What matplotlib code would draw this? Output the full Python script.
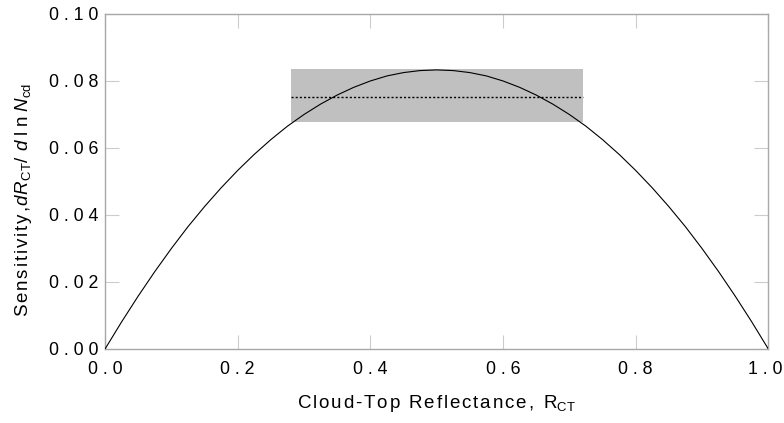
import matplotlib
matplotlib.use("Agg")
import matplotlib.pyplot as plt
import matplotlib.transforms as mtransforms
from matplotlib.ticker import FixedLocator

plt.rcParams['font.family'] = ['Liberation Sans', 'DejaVu Sans']
plt.rcParams['mathtext.fontset'] = 'custom'
plt.rcParams['mathtext.rm'] = 'Liberation Sans'
plt.rcParams['mathtext.it'] = 'Liberation Sans:italic'
plt.rcParams['mathtext.default'] = 'rm'

# Curve
reflectance = [0.0, 0.025, 0.05, 0.075, 0.1, 0.125, 0.15, 0.175, 0.2, 0.225, 0.25,
               0.275, 0.3, 0.325, 0.35, 0.375, 0.4, 0.425, 0.45, 0.475, 0.5,
               0.525, 0.55, 0.575, 0.6, 0.625, 0.65, 0.675, 0.7, 0.725, 0.75,
               0.775, 0.8, 0.825, 0.85, 0.875, 0.9, 0.925, 0.95, 0.975, 1.0]
sensitivity = [0.0, 0.0081, 0.0158, 0.0231, 0.0300, 0.0365, 0.0425, 0.0481, 0.0533, 0.0581, 0.0625,
               0.0665, 0.0700, 0.0731, 0.0758, 0.0781, 0.0800, 0.0815, 0.0825, 0.0831, 0.0833,
               0.0831, 0.0825, 0.0815, 0.0800, 0.0781, 0.0758, 0.0731, 0.0700, 0.0665, 0.0625,
               0.0581, 0.0533, 0.0481, 0.0425, 0.0365, 0.0300, 0.0231, 0.0158, 0.0081, 0.0]

# Shaded range
box_x = [0.28, 0.72]
box_y = [0.0678, 0.0835]
mean_line = 0.0751

xticks = [0.0, 0.2, 0.4, 0.6, 0.8, 1.0]
xtick_labels = ["0.0", "0.2", "0.4", "0.6", "0.8", "1.0"]
yticks = [0.0, 0.02, 0.04, 0.06, 0.08, 0.10]
ytick_labels = ["0.00", "0.02", "0.04", "0.06", "0.08", "0.10"]


def track(s):
    # loose letter spacing like the reference
    return " ".join(s)


def mtrack(s, sp=0.12):
    out = []
    for ch in s:
        if ch == ' ':
            out.append(r'\ ')
        elif ch == '-':
            out.append(r'\text{-}')
        elif ch == ',':
            out.append(r'{,}')
        else:
            out.append(ch)
    return (r'\hspace{%g}' % sp).join(out)


fig = plt.figure(figsize=(7.84, 4.23), dpi=100)
ax = fig.add_axes([0.134, 0.175, 0.846, 0.792])

ax.fill_between(box_x, box_y[0], box_y[1], color='#c0c0c0', linewidth=0, zorder=1)
ax.plot(box_x, [mean_line, mean_line], color='black', linestyle=(0, (1.5, 1.5)), linewidth=1.0, zorder=2)
ax.plot(reflectance, sensitivity, color='black', linewidth=0.8, zorder=3)

ax.set_xlim(0, 1.0)
ax.set_ylim(0, 0.10)
ax.xaxis.set_major_locator(FixedLocator(xticks))
ax.yaxis.set_major_locator(FixedLocator(yticks))
ax.set_xticklabels([track(t) for t in xtick_labels])
ax.set_yticklabels([track(t) for t in ytick_labels])

for s in ax.spines.values():
    s.set_color('#a8a8a8')
    s.set_linewidth(1.0)
ax.tick_params(direction='in', length=10, width=0.8, color='#cccccc',
               top=True, right=True, labelsize=12.8)
ax.tick_params(axis='x', pad=9)
ax.tick_params(axis='y', pad=5)

# nudge the last x tick label so it stays inside the figure, as in the reference
last = ax.get_xticklabels()[-1]
last.set_transform(last.get_transform() + mtransforms.ScaledTranslation(-3 / 100, 0, fig.dpi_scale_trans))

xlab = "$" + mtrack("Cloud-Top Reflectance,") + r"\hspace{0.3}\ R_{CT}$"
ylab = ("$" + mtrack("Sensitivity,") + r"\hspace{0.1}\mathit{d}\hspace{0.05}\mathit{R}_{CT}"
        + r"/\hspace{0.45}\mathit{d}\hspace{0.3}l\hspace{0.3}n\hspace{0.3}\mathit{N}_{cd}$")
ax.set_xlabel(xlab, fontsize=13.5)
ax.set_ylabel(ylab, fontsize=13.5)
ax.xaxis.set_label_coords(0.5, -0.13)
ax.yaxis.set_label_coords(-0.107, 0.446)

fig.savefig("out.png", dpi=100)
